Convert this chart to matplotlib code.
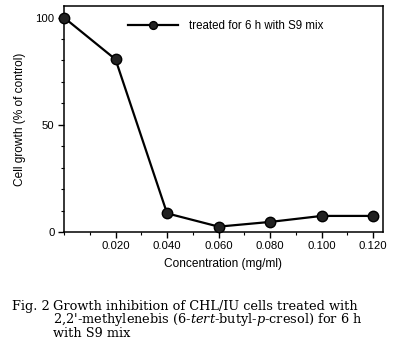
import matplotlib
matplotlib.use("Agg")
import matplotlib.pyplot as plt
from matplotlib.ticker import MultipleLocator, FormatStrFormatter

# Datos
concentration = [0.0, 0.02, 0.04, 0.06, 0.08, 0.10, 0.12]
cell_growth = [100, 80.5, 8.7, 2.5, 4.7, 7.5, 7.5]
x_ticks = [0.02, 0.04, 0.06, 0.08, 0.10, 0.12]
y_ticks = [0, 50, 100]
series_label = "treated for 6 h with S9 mix"

plt.rcParams['font.family'] = ['Liberation Sans', 'DejaVu Sans']
plt.rcParams['mathtext.fontset'] = 'custom'
plt.rcParams['mathtext.rm'] = 'DejaVu Serif'
plt.rcParams['mathtext.it'] = 'DejaVu Serif:italic'

fig = plt.figure(figsize=(3.96, 3.53), dpi=100)
ax = fig.add_axes([64/396, 1 - 232/353, (383 - 64)/396, (232 - 6)/353])

ax.plot(concentration, cell_growth, color='black', linewidth=1.6,
        marker='o', markersize=7.5, markerfacecolor='#222222',
        markeredgecolor='black', clip_on=False, label=series_label, zorder=3)

ax.set_xlim(0, 0.1238)
ax.set_ylim(0, 105.4)
ax.set_xticks(x_ticks)
ax.xaxis.set_major_formatter(FormatStrFormatter('%.3f'))
ax.xaxis.set_minor_locator(MultipleLocator(0.01))
ax.set_yticks(y_ticks)
ax.yaxis.set_minor_locator(MultipleLocator(10))

ax.tick_params(which='major', direction='out', length=4.3, width=1, labelsize=8.2, pad=2.5)
ax.tick_params(which='minor', direction='out', length=2.2, width=0.8)
for s in ax.spines.values():
    s.set_linewidth(1.1)

ax.set_xlabel("Concentration (mg/ml)", fontsize=8.6, labelpad=5)
ax.set_ylabel("Cell growth (% of control)", fontsize=8.6, labelpad=7)

leg = ax.legend(loc='center left', bbox_to_anchor=((128 - 64)/319, (232 - 26)/226),
                frameon=False, fontsize=8.3, handlelength=4.3, handletextpad=1.0,
                borderpad=0, borderaxespad=0, markerscale=0.75)

# Pie de figura
cap = dict(family='DejaVu Serif', fontsize=9.3, va='baseline', ha='left')
fig.text(12/396, 1 - 310/353, "Fig. 2", **cap)
fig.text(53/396, 1 - 310/353, "Growth inhibition of CHL/IU cells treated with", **cap)
fig.text(53/396, 1 - 323.5/353, r"2,2'-methylenebis (6-$\it{tert}$-butyl-$\it{p}$-cresol) for 6 h", **cap)
fig.text(53/396, 1 - 337/353, "with S9 mix", **cap)

fig.savefig("out.png", dpi=100)
